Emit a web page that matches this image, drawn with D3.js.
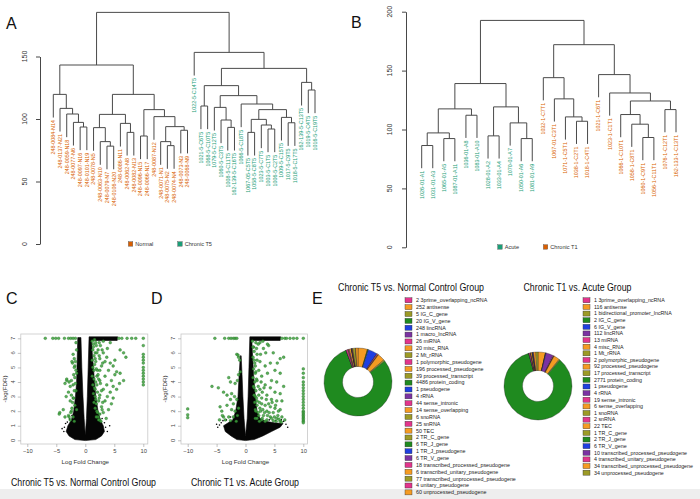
<!DOCTYPE html>
<html><head><meta charset="utf-8">
<script src="https://cdn.jsdelivr.net/npm/d3@7"></script>
<style>
body{margin:0;background:#fff}
svg{display:block}
text{font-family:"Liberation Sans",Arial,Helvetica,sans-serif}
</style>
</head><body>
<svg id="fig" width="700" height="499"></svg>
<script>
// ---------------- DATA ----------------
// Panel A dendrogram: leaf labels, groups, tree = [height, left, right], leaf = index
const aLabels = ["248-0084-N14","248-0137-N21","248-0059-N18","248-0077-N6","248-0097-N16","248-0101-N19","248-0078-N5","248-0063-N10","248-0079-N7","248-0106-N20","248-0086-N11","248-0062-N8","248-0082-N13","248-0096-N15","248-0066-N17","248-0087-N12","248-0071-N1","248-0075-N2","248-0074-N4","248-0073-N3","248-0068-N9",
  "1022-5-C14T5","1021-5-C6T5","1068-5-C10T5","1079-5-C12T5","1060-5-C3T5","1008-5-C11T5","162-139-5-C16T5","1066-5-C18T5","1067-05-C5T5","1058-5-C8T5","1023-5-C7T5","1003-5-C1T5","1006-5-C2T5","1009-5-C15T5","1017-5-C9T5","1018-5-C17T5","162-139-5-C13T5","1019-5-C4T5","1016-5-C19T5"];
const aGroups = d3.range(40).map(i => i < 21 ? "Normal" : "Chronic T5");
const aTree = [185.3,
  [143.2,
    [119.7, 0, [108.5, 1, [104, 2, [97.3, 3, [93.6, 4, 5]]]]],
    [119.7,
      [103.7, [93.1, 6, [81.9, 7, [78.3, 8, 9]]], [96.5, 10, [89.3, 11, 12]]],
      [107.5, [86.4, 13, 14], [101.9, 15, [93.9, [81.9, 16, [78.7, 17, 18]], [91, 19, 20]]]]]],
  [153.3, 21,
    [140.5,
      [126.7, [110.4, 22, 23],
        [118.7, [109.3, 24, [99.2, 25, [93.3, 26, 27]]],
          [112, 28, [107.5, [99.7, [89.3, 29, 30], [95.2, 31, [92, 32, 33]]], [101.3, 34, [97, 35, 36]]]]]],
      [129.3, 37, [123.2, 38, 39]]]]];
const aTicks = [0, 50, 100, 150];
const aLegend = ["Normal", "Chronic T5"];

// Panel B dendrogram
const bLabels = ["1026-01-A1","1031-01-A3","1065-01-A5","1087-01-A11","1036-01-A8","1083-01-A10","1028-01-A2","1033-01-A4","1070-01-A7","1050-01-A6","1081-01-A9",
  "1032-1-C7T1","1067-01-C3T1","1071-1-C5T1","1038-1-C2T1","1018-1-C4T1","1021-1-C6T1","1023-1-C1T1","1066-1-C10T1","1058-1-C8T1","1060-1-C9T1","1056-1-C11T1","1076-1-C12T1","162-133-1-C13T1"];
const bGroups = d3.range(24).map(i => i < 11 ? "Acute" : "Chronic T1");
const bTree = [192.6,
  [139, [117.5, [97.1, [86.4, 0, 1], [92.3, 2, 3]], [112.1, 4, 5]],
        [119.2, [94.6, 6, 7], [105.6, 8, [92.3, 9, 10]]]],
  [172, [144, 11, [126, 12, [110.7, 13, [107, 14, 15]]]],
        [146.6, 16, [131, 17, [124.2, [112.7, 18, [104.5, 19, [93.2, 20, 21]]], [116.9, 22, 23]]]]]];
const bTicks = [0, 50, 100, 150, 200];
const bLegend = ["Acute", "Chronic T1"];

// Panel C volcano (Chronic T5 vs Normal): [logFC, -log(FDR)]
const volcXTicks = [-10, -5, 0, 5, 10];
const volcYTicks = [0, 1, 2, 3, 4, 5, 6, 7];
const cBlackOutline = [[-1.3,7.05],[-1.4,5.5],[-1.5,4],[-1.7,3],[-2.0,2],[-2.4,1.4],[-3.0,1.0],[-3.3,0.6],[-2.8,0.3],[-1.8,0.05],[0,-0.02],[1.8,0.05],[2.8,0.3],[3.3,0.6],[3.1,1.0],[2.6,1.4],[2.2,2],[1.8,3],[1.5,4.5],[1.2,6.0],[1.1,6.85],[5.5,6.85],[5.6,7.1],[0.65,7.1],[0.5,5],[0.35,3],[0.2,1.5],[0,0.35],[-0.2,1.5],[-0.4,3],[-0.6,5],[-0.75,7.05]];
const cBlackPts = [[-3.4,1.15],[-3.6,0.9],[-3.1,1.25],[-2.7,1.45],[3.3,1.2],[3.5,0.9],[2.9,1.5],[-3.7,0.6],[3.8,0.6],[-2.3,1.7],[2.5,1.8],[-4.0,0.8],[4.2,1.0]];
const cGreen = [[-6.9,7],[-5.6,7],[-5.1,7],[-4.6,7],[-3.6,7],[-2.9,7],[-2.5,7],[-2.1,7],[-1.7,7],[5.8,7],[6.3,7],[7.2,7],[8.0,7],[8.7,7],[10,7],
  [10,6.5],[10,5.9],[10,5.7],[10,5.5],[10,5.3],[10,5.0],[10,4.8],[10,4.6],[10,4.4],[10,4.2],[10,4.0],[10,3.8],
  [-2.1,5.9],[-1.9,5.6],[-2.2,5.3],[-1.8,5.1],[-3.2,4.1],[-2.8,4.0],[-2.4,4.1],[-3.5,3.9],[-2.6,3.7],[-2.1,3.8],[-2.9,3.3],[-2.4,3.1],[-3.3,3.0],[-2.1,2.9],[-2.6,2.7],[-1.8,2.4],[-4.4,1.9],[-3.8,2.1],[-3.5,1.6],[-2.9,1.7],[-2.4,2.0],[-2.6,1.4],[-2.1,1.6],[-1.9,1.3],[-1.5,4.6],[-1.6,3.4],[-1.5,2.1],[-3.2,4.2],[-2.3,5.4],[-4.5,1.8],
  [-1.6,6.7],[-1.5,6.2],[-1.7,5.4],[-1.6,4.8],[-1.8,4.3],[-1.7,3.9],[-1.9,3.4],[-2.0,2.9],[-2.2,2.6],[-2.3,2.2],[-2.5,1.9],[-2.8,1.6],[-1.9,5.0],[-2.0,4.5],
  [4.3,6.7],[6.0,6.2],[6.6,6.0],[7.0,5.7],[3.8,6.3],[3.1,6.0],[2.5,5.6],[3.4,5.4],[4.3,5.3],[2.8,5.1],[4.8,5.1],[5.4,4.7],[6.0,4.6],[5.1,4.5],[4.0,4.8],[2.1,4.8],[6.6,4.1],[5.9,3.9],[4.5,4.1],[3.4,4.4],[2.5,4.1],[3.7,3.8],[4.8,3.7],[5.4,3.5],[4.3,3.3],[3.1,3.5],[2.5,3.1],[3.8,3.0],[4.8,2.9],[4.5,2.5],[3.4,2.7],[2.8,2.3],[4.0,2.1],[3.1,1.9],[2.2,1.6],[3.6,1.5],[2.5,1.4],[1.7,6.0],[1.8,5.4],[2.2,6.2],[1.4,6.4],[1.8,6.7],[2.4,6.7],[3.1,6.8],[2.0,4.4],[1.7,3.5],[1.8,2.8],[2.0,2.0],[1.5,4.8],[2.5,4.8],[3.0,5.3],[3.7,5.7],[5.1,5.5],
  [1.2,6.8],[1.4,6.6],[1.6,6.9],[1.9,6.5],[1.3,6.2],[1.5,5.8],[1.2,5.5],[1.7,5.6],[1.3,5.0],[1.6,5.2],[1.9,4.9],[1.2,4.4],[1.5,4.2],[1.8,4.0],[1.3,3.8],[1.6,3.6],[2.0,3.8],[1.4,3.2],[1.7,3.0],[2.1,3.3],[1.5,2.6],[1.9,2.5],[2.3,2.7],[1.7,2.2],[2.1,1.9],[2.5,1.8],[1.9,1.6],[2.3,1.4],[2.7,1.3],[2.2,4.5],[2.4,5.8],[2.0,6.0],[2.6,6.5],[2.9,6.2],[2.3,4.2],[2.6,3.9],[2.8,3.4],[2.4,2.9],[3.0,2.6],[2.9,2.1]];

// Panel D volcano (Chronic T1 vs Acute)
const dBlackOutline = [[-0.9,5.8],[-1.1,4.5],[-1.3,3],[-1.7,2],[-2.2,1.4],[-3.0,1.2],[-3.8,1.0],[-3.5,0.6],[-2.5,0.3],[-1.5,0.05],[0,-0.02],[1.5,0.05],[3.0,0.3],[4.5,0.6],[6.0,0.9],[6.5,1.15],[5.0,1.2],[3.5,1.3],[2.5,1.5],[2.0,2],[1.7,3],[1.4,4.5],[1.2,6.0],[1.1,6.85],[6.0,6.85],[6.1,7.1],[0.75,7.1],[0.6,5],[0.45,3],[0.3,1.5],[0,0.3],[-0.25,1.5],[-0.45,3],[-0.6,4.5],[-0.75,5.8]];
const dBlackPts = [[-4.2,1.2],[-4.5,1.05],[-3.9,1.35],[-3.3,1.4],[-4.8,0.9],[6.6,1.3],[7.0,1.1],[6.2,1.4],[5.2,1.35],[4.1,1.4],[-2.6,1.6],[7.3,0.9],[-5.0,1.1]];
const dGreen = [[-5.3,7],[-3.6,7],[-2.9,7],[-2.5,7],[-2.1,7],[-1.8,7],[-1.5,7],[6.3,7],[6.8,7],[7.1,7],[7.7,7],[8.3,7],[8.9,7],[10,7],
  [10,4.9],[10,4.6],[10,4.3],[10,4.0],[10,3.8],[10,3.6],[10,3.4],[10,3.2],[10,3.0],[10,2.8],[10,2.6],[10,2.4],[10,2.2],[10,2.0],[10,1.9],[10,1.8],[10,1.7],[10,1.6],[10,1.5],[10,1.4],[10,1.3],[10,1.2],
  [-10,2.15],[-10,1.75],[-10,1.55],
  [-1.5,5.9],[-1.2,5.7],[-1.0,5.5],[-0.9,4.7],[-1.2,4.5],[-1.4,4.1],[-2.9,4.3],[-2.6,4.0],[-1.8,3.9],[-5.8,3.7],[-4.7,3.6],[-3.8,3.3],[-3.2,3.1],[-2.4,3.2],[-1.9,3.0],[-2.6,2.8],[-2.1,2.5],[-1.5,2.8],[-3.2,2.4],[-4.1,2.0],[-2.4,2.1],[-1.8,2.0],[-1.2,2.2],[-4.5,1.4],[-3.8,1.6],[-2.9,1.6],[-2.1,1.6],[-1.4,1.7],[-1.6,1.3],[-2.6,1.35],[-3.5,1.4],[-4.4,2.3],[-4.0,1.7],[-1.3,5.85],
  [3.1,6.3],[4.0,6.5],[4.8,6.0],[6.0,5.6],[6.6,5.7],[5.5,5.3],[4.3,5.3],[3.4,5.1],[2.5,5.4],[2.0,5.9],[1.7,5.1],[5.1,4.8],[6.0,4.6],[3.8,4.6],[2.8,4.4],[2.0,4.1],[4.5,4.1],[5.4,4.0],[6.6,3.7],[3.4,3.8],[4.3,3.6],[2.5,3.5],[5.1,3.3],[6.0,3.2],[3.7,3.1],[2.8,2.9],[4.5,2.8],[5.4,2.7],[6.3,2.7],[2.0,2.7],[3.4,2.4],[4.3,2.3],[5.1,2.2],[6.0,2.1],[2.5,2.2],[1.7,2.1],[3.7,2.0],[4.8,1.9],[5.6,1.7],[3.1,1.7],[2.3,1.7],[4.3,1.6],[5.4,1.5],[6.3,1.6],[3.7,1.4],[4.8,1.35],[2.8,1.4],[6.0,1.3],[6.8,1.4],[1.7,1.5],[1.4,6.4],[1.8,6.7],[2.5,6.7],[1.5,5.5],[1.7,4.6],[1.5,3.6],[1.7,3.0],
  [1.2,6.8],[1.3,6.4],[1.5,6.1],[1.3,5.7],[1.6,5.3],[1.4,4.9],[1.8,4.7],[1.3,4.3],[1.6,4.0],[1.9,4.2],[1.4,3.7],[1.8,3.4],[2.2,3.7],[1.5,3.1],[1.9,2.9],[2.3,3.1],[1.6,2.6],[2.0,2.4],[2.4,2.6],[2.8,2.5],[1.8,2.0],[2.2,1.9],[2.6,2.0],[3.0,2.1],[3.3,1.9],[2.0,1.5],[2.4,1.3],[2.9,1.5],[3.4,1.3],[3.8,1.7],[4.1,1.9],[4.5,1.5],[5.0,1.6],[5.3,1.3],[5.8,1.45],[6.2,1.25],[4.0,2.5],[4.6,2.6],[5.2,2.4],[5.7,2.0],[3.6,2.8],[2.9,3.3],[3.2,3.6],[2.7,4.0],[2.3,4.8],[2.0,5.5],[2.6,5.9],[3.5,6.0],[1.9,6.3],[2.2,6.6],[3.0,6.8],[3.8,6.6]];

// Panel E donuts
const t5Types = ["3prime_overlapping_ncRNA","antisense","IG_C_gene","IG_V_gene","lincRNA","macro_lncRNA","miRNA","misc_RNA","Mt_rRNA","polymorphic_pseudogene","processed_pseudogene","processed_transcript","protein_coding","pseudogene","rRNA","sense_intronic","sense_overlapping","snoRNA","snRNA","TEC","TR_C_gene","TR_J_gene","TR_J_pseudogene","TR_V_gene","transcribed_processed_pseudogene","transcribed_unitary_pseudogene","transcribed_unprocessed_pseudogene","unitary_pseudogene","unprocessed_pseudogene"];
const t5Counts = [2,252,5,20,248,1,26,20,2,1,196,39,4486,1,4,44,14,6,25,50,2,6,1,6,18,6,77,4,60];
const t1Types = ["3prime_overlapping_ncRNA","antisense","bidirectional_promoter_lncRNA","IG_C_gene","IG_V_gene","lincRNA","miRNA","misc_RNA","Mt_rRNA","polymorphic_pseudogene","processed_pseudogene","processed_transcript","protein_coding","pseudogene","rRNA","sense_intronic","sense_overlapping","snoRNA","snRNA","TEC","TR_C_gene","TR_J_gene","TR_V_gene","transcribed_processed_pseudogene","transcribed_unitary_pseudogene","transcribed_unprocessed_pseudogene","unprocessed_pseudogene"];
const t1Counts = [1,116,1,2,6,112,13,4,1,2,92,17,2771,1,4,19,6,1,2,22,1,2,6,10,4,34,34];

// ---------------- STYLES ----------------
const ORANGE = "#d95f02", TEAL = "#1b9e77", LINE = "#4a4a4a";
const pal = {pk:"#e2358c", or:"#f59b22", ol:"#9c9a26", gr:"#1f8a1f", bl:"#1f3fe0", pu:"#7b32a2"};
const t5Swatch = ["pk","or","ol","gr","bl","pu","pk","or","ol","pk","or","ol","gr","bl","pu","pk","or","ol","pk","or","ol","gr","bl","pu","pk","or","ol","pk","or"];
const t1Swatch = ["pk","or","ol","gr","bl","pu","pk","or","ol","pk","or","ol","gr","bl","pu","pk","or","ol","pk","or","ol","gr","bl","pu","pk","or","ol"];

const svg = d3.select("#fig");
svg.append("rect").attr("width",700).attr("height",499).attr("fill","#fff");
svg.append("rect").attr("x",0).attr("y",489).attr("width",700).attr("height",10).attr("fill","#eeeeee");

function letter(t, x, y){
  svg.append("text").attr("x",x).attr("y",y).attr("font-size",16).attr("fill","#111").text(t);
}

// ---------------- DENDROGRAMS ----------------
function dendro(tree, labels, groups, xs, ys, axisX, tickVals, labOff, colorOf){
  const g = svg.append("g");
  const hang = 0.1 * tree[0];
  function walk(n){
    const a = Array.isArray(n[1]) ? walk(n[1]) : {x: xs(n[1]), leaf: n[1]};
    const b = Array.isArray(n[2]) ? walk(n[2]) : {x: xs(n[2]), leaf: n[2]};
    const y = ys(n[0]);
    g.append("line").attr("x1",a.x).attr("x2",b.x).attr("y1",y).attr("y2",y)
      .attr("stroke",LINE).attr("stroke-width",1);
    [a,b].forEach(c => {
      const yb = c.leaf !== undefined ? ys(n[0]-hang) : c.y;
      g.append("line").attr("x1",c.x).attr("x2",c.x).attr("y1",y).attr("y2",yb)
        .attr("stroke",LINE).attr("stroke-width",1);
      if (c.leaf !== undefined){
        g.append("text").attr("transform",`translate(${c.x},${yb+2.5}) rotate(-90)`)
          .attr("text-anchor","end").attr("dy","0.35em").attr("font-size",5.4)
          .attr("fill",colorOf(groups[c.leaf])).text(labels[c.leaf]);
      }
    });
    return {x:(a.x+b.x)/2, y};
  }
  walk(tree);
  const ax = svg.append("g").attr("transform",`translate(${axisX},0)`)
    .call(d3.axisLeft(ys).tickValues(tickVals).tickSize(4).tickSizeOuter(0).tickFormat(""));
  ax.selectAll("path,line").attr("stroke","#333").attr("stroke-width",0.9);
  tickVals.forEach(v => {
    svg.append("text").attr("transform",`translate(${axisX+labOff},${ys(v)}) rotate(-90)`)
      .attr("text-anchor","middle").attr("font-size",7).attr("fill","#333").text(v);
  });
}

const aX = d3.scalePoint(d3.range(40), [53.3, 315]);
const aY = d3.scaleLinear([0,150],[244,56.5]);
const aColor = d3.scaleOrdinal(aLegend, [ORANGE, TEAL]);
dendro(aTree, aLabels, aGroups, aX, aY, 40, aTicks, -13, aColor);

const bX = d3.scalePoint(d3.range(24), [421.7, 676]);
const bY = d3.scaleLinear([0,200],[247.3,11.7]);
const bColor = d3.scaleOrdinal(bLegend, [TEAL, ORANGE]);
dendro(bTree, bLabels, bGroups, bX, bY, 406, bTicks, -14, bColor);

function dLegend(items, colorScale, xs, y){
  items.forEach((it,i) => {
    svg.append("rect").attr("x",xs[i]).attr("y",y-2.3).attr("width",4.5).attr("height",4.5)
      .attr("fill",colorScale(it)).attr("stroke","#555").attr("stroke-width",0.4);
    svg.append("text").attr("x",xs[i]+7).attr("y",y).attr("dy","0.35em")
      .attr("font-size",5.6).attr("fill","#333").text(it);
  });
}
dLegend(aLegend, aColor, [128.3, 177.7], 244);
dLegend(bLegend, bColor, [497.7, 543.3], 247);

letter("A", 6, 29);
letter("B", 351, 28);

// ---------------- VOLCANO ----------------
function volcano(x, y, box, outline, blackPts, green, title, titleBox){
  const g = svg.append("g");
  g.append("rect").attr("x",box[0]).attr("y",box[2]).attr("width",box[1]-box[0]).attr("height",box[3]-box[2])
    .attr("fill","#fff").attr("stroke","#c8c8c8").attr("stroke-width",0.8);
  const line = d3.line().x(d=>x(d[0])).y(d=>y(d[1])).curve(d3.curveLinearClosed);
  g.append("path").attr("d", line(outline)).attr("fill","#050505").attr("stroke","#050505").attr("stroke-width",0.6);
  g.selectAll(".bp").data(blackPts).join("circle").attr("cx",d=>x(d[0])).attr("cy",d=>y(d[1]))
    .attr("r",0.8).attr("fill","#000");
  g.selectAll(".gp").data(green).join("circle").attr("cx",d=>x(d[0])).attr("cy",d=>y(d[1]))
    .attr("r",1.4).attr("fill","#3fa23f").attr("fill-opacity",0.85).attr("stroke","#1d6a1d").attr("stroke-width",0.35);
  // axes
  const xa = svg.append("g").attr("transform",`translate(0,${box[3]})`)
    .call(d3.axisBottom(x).tickValues(volcXTicks).tickSize(3).tickSizeOuter(0).tickPadding(2));
  xa.select(".domain").remove();
  xa.selectAll("line").attr("stroke","#999").attr("stroke-width",0.6);
  xa.selectAll("text").attr("font-size",5.8).attr("fill","#444").attr("font-family",null);
  const ya = svg.append("g").attr("transform",`translate(${box[0]},0)`)
    .call(d3.axisLeft(y).tickValues(volcYTicks).tickSize(3).tickSizeOuter(0).tickFormat(""));
  ya.select(".domain").remove();
  ya.selectAll("line").attr("stroke","#999").attr("stroke-width",0.6);
  volcYTicks.forEach(v => {
    svg.append("text").attr("transform",`translate(${box[0]-6},${y(v)}) rotate(-90)`)
      .attr("text-anchor","middle").attr("font-size",5.8).attr("fill","#444").text(v);
  });
  svg.append("text").attr("x",x(0)).attr("y",box[3]+19.5).attr("text-anchor","middle")
    .attr("font-size",6.2).attr("fill","#333").text("Log Fold Change");
  svg.append("text").attr("transform",`translate(${box[0]-14},${(box[2]+box[3])/2}) rotate(-90)`)
    .attr("text-anchor","middle").attr("font-size",6.2).attr("fill","#333").text("-log(FDR)");
  svg.append("text").attr("x",titleBox[0]).attr("y",titleBox[1]).attr("font-size",10.5)
    .attr("fill","#111").attr("textLength",titleBox[2]).attr("lengthAdjust","spacingAndGlyphs").text(title);
}

const cX = d3.scaleLinear([-10,10],[27.3,143.3]);
const vY = d3.scaleLinear([0,7],[440.3,338.3]);
volcano(cX, vY, [20.8,147.8,334,444], cBlackOutline, cBlackPts, cGreen, "Chronic T5 vs. Normal Control Group", [11,485.5,145]);
const dX = d3.scaleLinear([-10,10],[187.7,303.3]);
volcano(dX, vY, [181,307.5,334,444], dBlackOutline, dBlackPts, dGreen, "Chronic T1 vs. Acute Group", [191,485.5,108]);

letter("C", 6, 304);
letter("D", 151, 304);
letter("E", 312, 304);

// ---------------- DONUTS ----------------
function donut(types, counts, swatch, cx, cy, rOut, rIn, title, titleBox, legX, legY0, legStep, legFont){
  const pie = d3.pie().sort(null).value(d=>d);
  const arc = d3.arc().innerRadius(rIn).outerRadius(rOut);
  const g = svg.append("g").attr("transform",`translate(${cx},${cy})`);
  g.selectAll("path").data(pie(counts)).join("path").attr("d",arc)
    .attr("fill",(d,i)=>pal[swatch[i]]).attr("stroke","#222").attr("stroke-width",0.35);
  svg.append("text").attr("x",titleBox[0]).attr("y",titleBox[1]).attr("font-size",10.5)
    .attr("fill","#111").attr("textLength",titleBox[2]).attr("lengthAdjust","spacingAndGlyphs").text(title);
  types.forEach((t,i) => {
    const yy = legY0 + i*legStep;
    svg.append("rect").attr("x",legX).attr("y",yy-2.5).attr("width",7).attr("height",5)
      .attr("fill",pal[swatch[i]]).attr("stroke","#333").attr("stroke-width",0.4);
    svg.append("text").attr("x",legX+11).attr("y",yy).attr("dy","0.35em").attr("font-size",legFont)
      .attr("fill","#222").text(counts[i] + " " + t);
  });
}
donut(t5Types, t5Counts, t5Swatch, 358, 382, 34, 15.5, "Chronic T5 vs. Normal Control Group", [338,291,146], 405, 300.3, 6.86, 5.35);
donut(t1Types, t1Counts, t1Swatch, 538, 386, 34, 15.5, "Chronic T1 vs. Acute Group", [523.5,291,108], 583, 300.3, 6.63, 5.3);
</script>
</body></html>
